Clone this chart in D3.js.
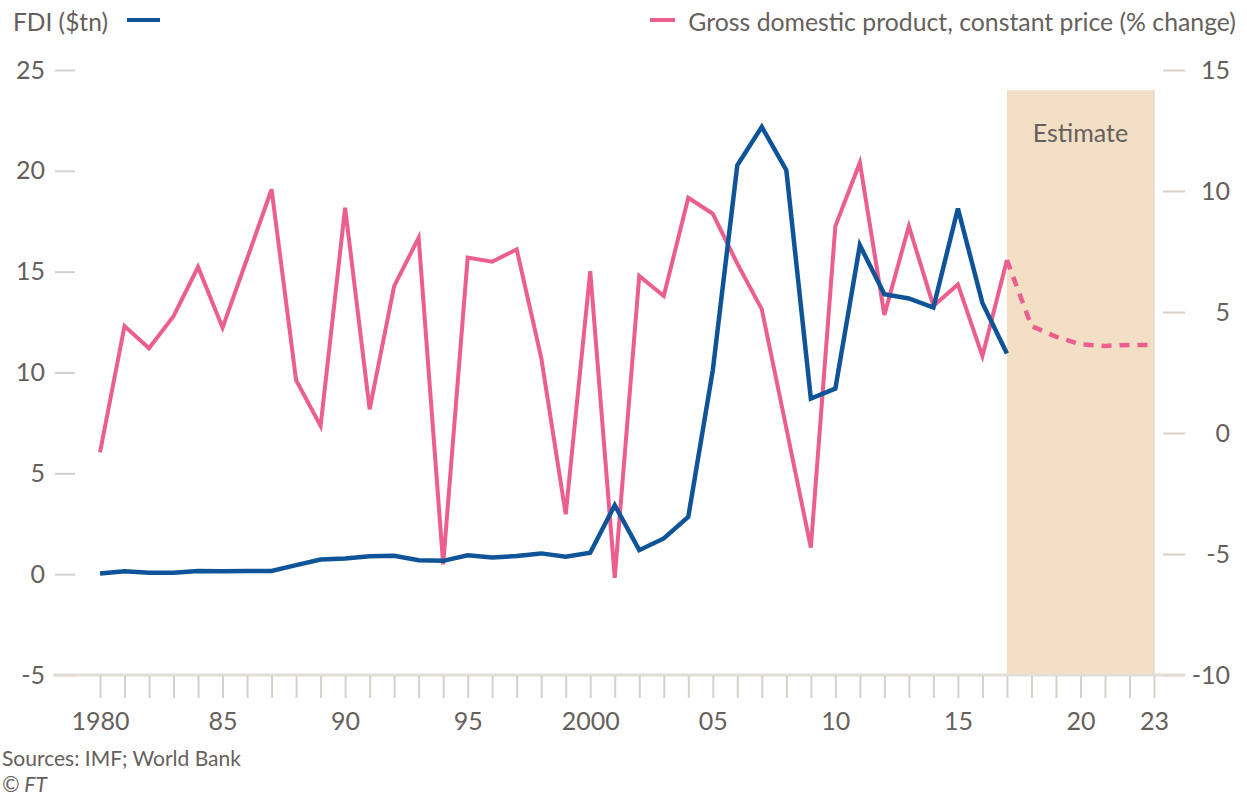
<!DOCTYPE html>
<html>
<head>
<meta charset="utf-8">
<script src="https://cdn.jsdelivr.net/npm/d3@7"></script>
<style>
  body { margin: 0; background: #fff; }
  svg text { font-family: Lato, "Open Sans", sans-serif; fill: #66605c; }
</style>
</head>
<body>
<svg width="1247" height="799"></svg>
<script>
var svg = d3.select('svg');

// data
var years = [1980,1981,1982,1983,1984,1985,1986,1987,1988,1989,1990,1991,1992,1993,1994,1995,1996,1997,1998,1999,
             2000,2001,2002,2003,2004,2005,2006,2007,2008,2009,2010,2011,2012,2013,2014,2015,2016,2017];
var fdi = [0.03,0.15,0.07,0.07,0.16,0.15,0.16,0.16,0.45,0.73,0.78,0.89,0.91,0.69,0.66,0.94,0.83,0.9,1.03,0.86,
           1.06,3.42,1.19,1.77,2.84,10.11,20.28,22.18,20.03,8.71,9.2,16.31,13.88,13.67,13.22,18.13,13.45,10.94];
var gdp = [-0.8,4.42,3.5,4.83,6.86,4.35,7.2,10.07,2.18,0.29,9.31,0.98,6.07,8.07,-5.43,7.25,7.08,7.59,3.11,-3.36,
           6.69,-5.98,6.49,5.66,9.72,9.06,7.0,5.11,0.2,-4.74,8.55,11.17,4.88,8.55,5.25,6.14,3.18,7.15];
var estYears = [2017,2018,2019,2020,2021,2022,2023];
var gdpEst = [7.15,4.42,3.98,3.66,3.6,3.64,3.64];

var leftTicks = [-5,0,5,10,15,20,25];
var rightTicks = [-10,-5,0,5,10,15];
var labelYears = [1980,1985,1990,1995,2000,2005,2010,2015,2020,2023];
var allYears = d3.range(1980, 2024);

function yearLabel(y){
  if (y == 1980 || y == 2000) return String(y);
  return String(y).slice(2);
}
// plain hyphen for negatives, like the original
function num(d){ return String(d); }

// scales
var ScaleX = d3.scaleLinear().domain([1980, 2023]).range([100, 1154]);
var ScaleL = d3.scaleLinear().domain([-5, 25]).range([675, 70]);
var ScaleR = d3.scaleLinear().domain([-10, 15]).range([675, 70]);

// estimate band
svg.append('rect')
  .attr('x', ScaleX(2017))
  .attr('y', ScaleL(24))
  .attr('width', ScaleX(2023) - ScaleX(2017))
  .attr('height', ScaleL(-5) - ScaleL(24))
  .attr('fill', '#f3dfc6');
svg.append('line')
  .attr('x1', ScaleX(2023)).attr('x2', ScaleX(2023))
  .attr('y1', ScaleL(24)).attr('y2', ScaleL(-5))
  .attr('stroke', '#e3d9ce').attr('stroke-width', 1.5);
svg.append('text')
  .text('Estimate')
  .attr('x', (ScaleX(2017) + ScaleX(2023)) / 2)
  .attr('y', 142)
  .attr('text-anchor', 'middle')
  .style('font-size', '25px');

// left axis
var gl = svg.append('g')
  .attr('transform', 'translate(75,0)')
  .call(d3.axisLeft(ScaleL).tickValues(leftTicks).tickFormat(num).tickSize(20).tickPadding(10));
gl.select('.domain').remove();
gl.selectAll('line').attr('stroke', '#d6d0ca').attr('stroke-width', 2);
gl.selectAll('text').style('font-size', '25px').style('fill', '#66605c');

// right axis
var gr = svg.append('g')
  .attr('transform', 'translate(1163,0)')
  .call(d3.axisRight(ScaleR).tickValues(rightTicks).tickFormat(num).tickSize(22).tickPadding(10));
gr.select('.domain').remove();
gr.selectAll('line').attr('stroke', '#d6d0ca').attr('stroke-width', 2);
gr.selectAll('text').attr('x', 67).attr('text-anchor', 'end')
  .style('font-size', '25px').style('fill', '#66605c');

// bottom axis
svg.append('line')
  .attr('x1', 53).attr('x2', 1185)
  .attr('y1', 675).attr('y2', 675)
  .attr('stroke', '#e2ddd7').attr('stroke-width', 3);
var gb = svg.append('g')
  .attr('transform', 'translate(0,676)')
  .call(d3.axisBottom(ScaleX).tickValues(allYears).tickSize(22).tickPadding(14)
    .tickFormat(function(d){ return labelYears.indexOf(d) >= 0 ? yearLabel(d) : ''; }));
gb.select('.domain').remove();
gb.selectAll('line').attr('stroke', '#d6d0ca').attr('stroke-width', 2);
gb.selectAll('text').style('font-size', '25px').style('fill', '#66605c');

// lines
var gdpLine = d3.line()
  .x(function(d, i){ return ScaleX(years[i]); })
  .y(function(d){ return ScaleR(d); });
var estLine = d3.line()
  .x(function(d, i){ return ScaleX(estYears[i]); })
  .y(function(d){ return ScaleR(d); });
var fdiLine = d3.line()
  .x(function(d, i){ return ScaleX(years[i]); })
  .y(function(d){ return ScaleL(d); });

svg.append('path')
  .datum(gdp)
  .attr('d', gdpLine)
  .attr('fill', 'none')
  .attr('stroke', '#eb5e8d')
  .attr('stroke-width', 4)
  .attr('stroke-linejoin', 'miter');
svg.append('path')
  .datum(gdpEst)
  .attr('d', estLine)
  .attr('fill', 'none')
  .attr('stroke', '#eb5e8d')
  .attr('stroke-width', 4.5)
  .attr('stroke-dasharray', '10,8');
svg.append('path')
  .datum(fdi)
  .attr('d', fdiLine)
  .attr('fill', 'none')
  .attr('stroke', '#0f5499')
  .attr('stroke-width', 4.5);

// legend
svg.append('text')
  .text('FDI ($tn)')
  .attr('x', 13).attr('y', 31)
  .style('font-size', '24.5px');
svg.append('line')
  .attr('x1', 127).attr('x2', 160).attr('y1', 20).attr('y2', 20)
  .attr('stroke', '#0f5499').attr('stroke-width', 4);

svg.append('line')
  .attr('x1', 650).attr('x2', 675).attr('y1', 20).attr('y2', 20)
  .attr('stroke', '#eb5e8d').attr('stroke-width', 4);
svg.append('text')
  .text('Gross domestic product, constant price (% change)')
  .attr('x', 1236).attr('y', 31)
  .attr('text-anchor', 'end')
  .style('font-size', '24.8px');

// footer
svg.append('text')
  .text('Sources: IMF; World Bank')
  .attr('x', 2).attr('y', 766)
  .style('font-size', '21px');
svg.append('text')
  .text('© FT')
  .attr('x', 2).attr('y', 792)
  .style('font-size', '21px')
  .style('font-style', 'italic');
</script>
</body>
</html>
